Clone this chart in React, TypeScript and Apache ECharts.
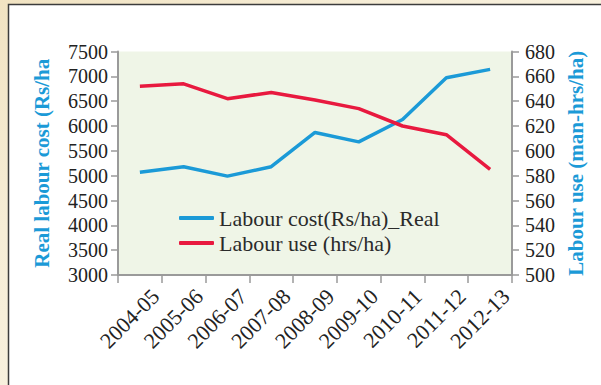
import React, { useEffect, useRef } from "react";
import * as echarts from "echarts";

// Agricultural years on the category axis
const years = [
  "2004-05",
  "2005-06",
  "2006-07",
  "2007-08",
  "2008-09",
  "2009-10",
  "2010-11",
  "2011-12",
  "2012-13",
];

// Real labour cost, Rs per hectare (left axis)
const labourCostReal = [5070, 5180, 4990, 5180, 5870, 5680, 6130, 6970, 7140];

// Labour use, man-hours per hectare (right axis)
const labourUse = [652, 654, 642, 647, 641, 634, 620, 613, 585];

// Axis ranges
const costAxis = { min: 3000, max: 7500, interval: 500 };
const useAxis = { min: 500, max: 680, interval: 20 };

const seriesNames = ["Labour cost(Rs/ha)_Real", "Labour use (hrs/ha)"];

const FONT = "'Liberation Serif', 'Times New Roman', serif";
const BLUE = "#1b9ad7";
const RED = "#e8193f";
const AXIS_GREY = "#9a9a9a";

export default function App() {
  const ref = useRef<HTMLDivElement>(null);

  useEffect(() => {
    if (!ref.current) return;
    const chart = echarts.init(ref.current, undefined, { renderer: "svg" });

    const axisCommon = {
      axisLine: { show: true, lineStyle: { color: AXIS_GREY, width: 2 } },
      axisTick: { show: true, length: 7, lineStyle: { color: AXIS_GREY, width: 1.5 } },
      splitLine: { show: false },
    };

    chart.setOption({
      animation: false,
      backgroundColor: "transparent",
      graphic: [
        {
          type: "rect",
          z: -100,
          silent: true,
          shape: { x: 0, y: 0, width: 601, height: 385 },
          style: {
            fill: new echarts.graphic.LinearGradient(0, 0, 1, 1, [
              { offset: 0, color: "#f1e3c2" },
              { offset: 0.3, color: "#f6edd6" },
              { offset: 1, color: "#fcf9ef" },
            ]),
          },
        },
        {
          type: "rect",
          z: -90,
          silent: true,
          shape: { x: 8.5, y: 4.5, width: 620, height: 400 },
          style: { fill: "#ffffff", stroke: "#3c3c3c", lineWidth: 1.5 },
        },
      ],
      grid: {
        left: 118,
        right: 89,
        top: 51.5,
        bottom: 110,
        show: true,
        backgroundColor: "#eff5e7",
        borderWidth: 0,
      },
      legend: {
        show: true,
        orient: "vertical",
        left: 179,
        top: 207,
        padding: 0,
        itemWidth: 35,
        itemHeight: 4,
        itemGap: 3,
        icon: "roundRect",
        textStyle: { fontFamily: FONT, fontSize: 22, color: "#2a2a2a" },
        data: seriesNames,
      },
      xAxis: {
        type: "category",
        data: years,
        boundaryGap: true,
        ...axisCommon,
        axisTick: { show: true, length: 8, lineStyle: { color: AXIS_GREY, width: 1.5 } },
        axisLabel: {
          rotate: 45,
          interval: 0,
          margin: 2,
          verticalAlign: "top",
          padding: [11, 0, 0, 0],
          fontFamily: FONT,
          fontSize: 22,
          color: "#222222",
        },
      },
      yAxis: [
        {
          type: "value",
          position: "left",
          ...costAxis,
          ...axisCommon,
          axisLabel: {
            margin: 10,
            fontFamily: FONT,
            fontSize: 20,
            color: "#222222",
            formatter: (v: number) => String(v),
          },
          name: "Real labour cost (Rs/ha",
          nameLocation: "middle",
          nameRotate: 90,
          nameGap: 66,
          nameTextStyle: { fontFamily: FONT, fontSize: 21, fontWeight: "bold", color: BLUE },
        },
        {
          type: "value",
          position: "right",
          ...useAxis,
          ...axisCommon,
          axisLabel: {
            margin: 13,
            fontFamily: FONT,
            fontSize: 20,
            color: "#222222",
            formatter: (v: number) => String(v),
          },
          name: "Labour use (man-hrs/ha)",
          nameLocation: "middle",
          nameRotate: 90,
          nameGap: 53,
          nameTextStyle: { fontFamily: FONT, fontSize: 21, fontWeight: "bold", color: BLUE },
        },
      ],
      series: [
        {
          name: seriesNames[0],
          type: "line",
          yAxisIndex: 0,
          data: labourCostReal,
          symbol: "none",
          lineStyle: { color: BLUE, width: 3.5 },
          itemStyle: { color: BLUE },
        },
        {
          name: seriesNames[1],
          type: "line",
          yAxisIndex: 1,
          data: labourUse,
          symbol: "none",
          lineStyle: { color: RED, width: 3.5 },
          itemStyle: { color: RED },
        },
      ],
    });

    return () => chart.dispose();
  }, []);

  return (
    <div
      ref={ref}
      style={{ position: "absolute", left: 0, top: 0, width: 601, height: 385 }}
    />
  );
}
